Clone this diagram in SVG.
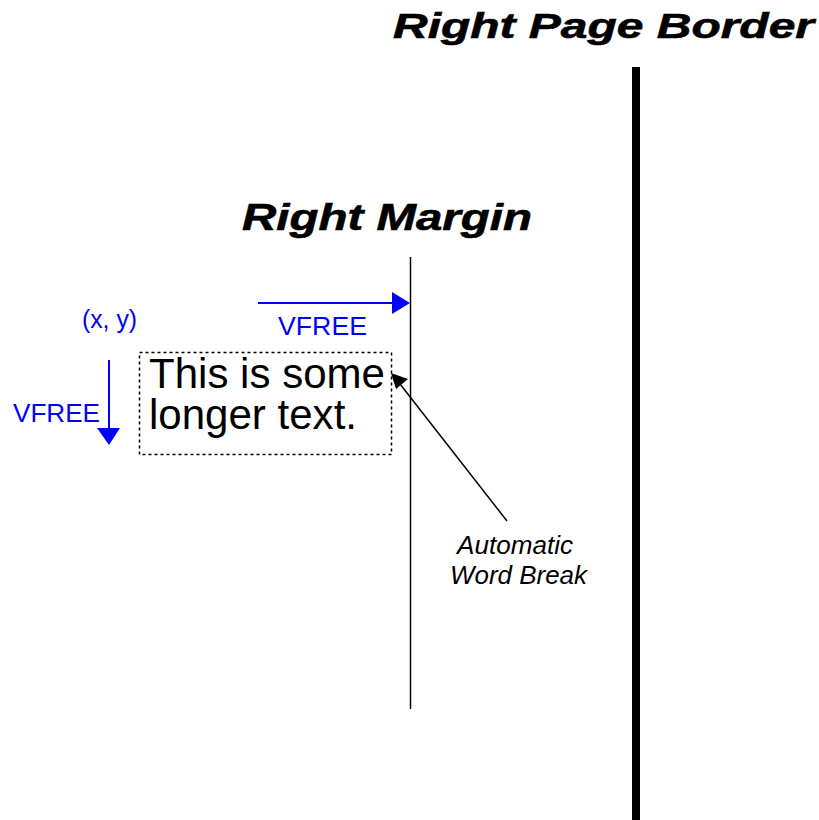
<svg xmlns="http://www.w3.org/2000/svg" width="819" height="820" viewBox="0 0 819 820">
<style>
.title{font-family:"Liberation Sans",Arial,sans-serif;font-weight:bold;font-style:italic;fill:#000;stroke:#000;stroke-width:0.6}
.blue{font-family:"Liberation Sans",Arial,sans-serif;fill:#0000ff;font-size:25px}
.body{font-family:"Liberation Sans",Arial,sans-serif;fill:#000;font-size:42px}
.note{font-family:"Liberation Sans",Arial,sans-serif;font-style:italic;fill:#000;font-size:25px}
</style>
<rect width="819" height="820" fill="#fff"/>
<g id="page-border">
<line x1="636" y1="67" x2="636" y2="820" stroke="#000" stroke-width="8"/>
<text class="title" x="393" y="38" font-size="35" textLength="421" lengthAdjust="spacingAndGlyphs">Right Page Border</text>
</g>
<g id="right-margin">
<line x1="410.5" y1="257" x2="410.5" y2="709" stroke="#000" stroke-width="1.5"/>
<text class="title" x="242" y="230" font-size="37" textLength="290" lengthAdjust="spacingAndGlyphs">Right Margin</text>
</g>
<g id="text-box">
<rect x="139.5" y="352.5" width="252" height="102" fill="none" stroke="#000" stroke-width="1.5" stroke-dasharray="3,3"/>
<text class="body" x="149" y="388" textLength="236" lengthAdjust="spacingAndGlyphs">This is some</text>
<text class="body" x="149" y="429" textLength="208" lengthAdjust="spacingAndGlyphs">longer text.</text>
</g>
<g id="xy-label">
<text class="blue" x="82" y="328" textLength="55" lengthAdjust="spacingAndGlyphs">(x, y)</text>
</g>
<g id="vfree-horizontal-label">
<text class="blue" x="278" y="335" textLength="89" lengthAdjust="spacingAndGlyphs">VFREE</text>
</g>
<g id="vfree-vertical-label">
<text class="blue" x="13" y="422" textLength="87" lengthAdjust="spacingAndGlyphs">VFREE</text>
</g>
<g id="word-break-label">
<text class="note" x="457" y="554" textLength="116" lengthAdjust="spacingAndGlyphs">Automatic</text>
<text class="note" x="450" y="584" textLength="137" lengthAdjust="spacingAndGlyphs">Word Break</text>
</g>
<g id="connectors">
<line x1="258" y1="303" x2="395" y2="303" stroke="#0000ff" stroke-width="2"/>
<polygon points="392,292 410,303 392,314" fill="#0000ff"/>
<line x1="109" y1="360" x2="109" y2="430" stroke="#0000ff" stroke-width="2"/>
<polygon points="97,428 120,428 109,445" fill="#0000ff"/>
<line x1="400" y1="384" x2="507" y2="521" stroke="#000" stroke-width="1.5"/>
<polygon points="391,373 408,379 396,389" fill="#000"/>
</g>
</svg>
